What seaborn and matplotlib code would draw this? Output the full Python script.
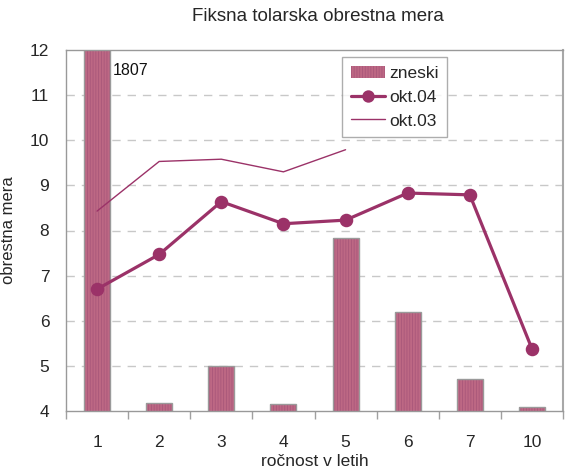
import matplotlib
matplotlib.use("Agg")
import matplotlib.pyplot as plt
import seaborn as sns
import numpy as np

categories = ["1", "2", "3", "4", "5", "6", "7", "10"]
zneski = [1807, 4.17, 5.0, 4.16, 7.83, 6.19, 4.70, 4.08]
okt04 = [6.70, 7.47, 8.64, 8.15, 8.23, 8.83, 8.79, 5.38]
okt03 = [8.43, 9.53, 9.58, 9.30, 9.79, np.nan, np.nan, np.nan]
yticks = [4, 5, 6, 7, 8, 9, 10, 11, 12]
bar_label = "1807"

sns.set_theme(style="white")
plt.rcParams["font.family"] = ["Liberation Sans", "DejaVu Sans"]
plt.rcParams["hatch.linewidth"] = 0.6

fig = plt.figure(figsize=(5.66, 4.72), dpi=100)
ax = fig.add_axes([66 / 566, 1 - 411 / 472, (563 - 66) / 566, (411 - 50) / 472])

line_col = "#9b3268"
bar_col = "#bd6884"
stripe_col = "#a9577a"

sns.barplot(x=categories, y=zneski, order=categories, color=bar_col, saturation=1,
            width=0.42, ax=ax, label="zneski", zorder=2)
for p in ax.patches:
    p.set_facecolor(bar_col)
    p.set_edgecolor(stripe_col)
    p.set_linewidth(0)
    p.set_hatch("||||||")
n_fill = len(ax.patches)
sns.barplot(x=categories, y=zneski, order=categories, fill=False, saturation=1,
            width=0.42, ax=ax, zorder=2.5)
for p in ax.patches[n_fill:]:
    p.set_edgecolor("#9a9a9a")
    p.set_linewidth(1.0)

sns.pointplot(x=categories, y=okt03, order=categories, color=line_col, marker="",
              linewidth=1.0, errorbar=None, ax=ax, label="okt.03", zorder=3)
sns.pointplot(x=categories, y=okt04, order=categories, color=line_col, marker="o",
              markersize=8, linewidth=2.3, errorbar=None, ax=ax, label="okt.04", zorder=4)

ax.set_ylim(4, 12)
ax.set_xlim(-0.5, len(categories) - 0.5)
ax.set_yticks(yticks)
ax.set_yticklabels([str(t) for t in yticks], fontsize=12.5)
ax.set_xticks(range(len(categories)))
ax.set_xticklabels(categories, fontsize=12.5)
ax.tick_params(axis="x", length=0, pad=17)
ax.tick_params(axis="y", length=0, pad=12)
ax.set_xticks(np.arange(len(categories) + 1) - 0.5, minor=True)
ax.tick_params(axis="x", which="minor", length=6, color="#a0a0a0", direction="out", bottom=True)

for y in yticks[1:-1]:
    ax.axhline(y, color="#c8c8c8", linestyle=(0, (6, 5)), linewidth=1.0, zorder=1)

for s in ax.spines.values():
    s.set_color("#999999")
    s.set_linewidth(1.0)
ax.spines["right"].set_color("#a8a8a8")
ax.spines["right"].set_linewidth(1.5)

ax.text(0.25, 11.55, bar_label, fontsize=11.5, ha="left", va="center", color="#111111")

ax.set_xlabel("ročnost v letih", fontsize=12.5, labelpad=3)
ax.set_ylabel("obrestna mera", fontsize=12, labelpad=10)
fig.suptitle("Fiksna tolarska obrestna mera", fontsize=13.5, x=318 / 566, y=1 - 8 / 472, va="top")

handles, labels = ax.get_legend_handles_labels()
order = [labels.index(l) for l in ["zneski", "okt.04", "okt.03"]]
leg = ax.legend([handles[i] for i in order], [labels[i] for i in order],
                loc="upper left", bbox_to_anchor=((342 - 66) / 497, 1 - 7 / 361),
                fontsize=12.5, frameon=True, fancybox=False, edgecolor="#999999",
                handlelength=2.0, handletextpad=0.2, borderpad=0.5, labelspacing=0.5,
                borderaxespad=0, markerscale=0.9)
leg.get_frame().set_linewidth(1.0)
leg.set_zorder(10)

fig.savefig("out.png", dpi=100)
